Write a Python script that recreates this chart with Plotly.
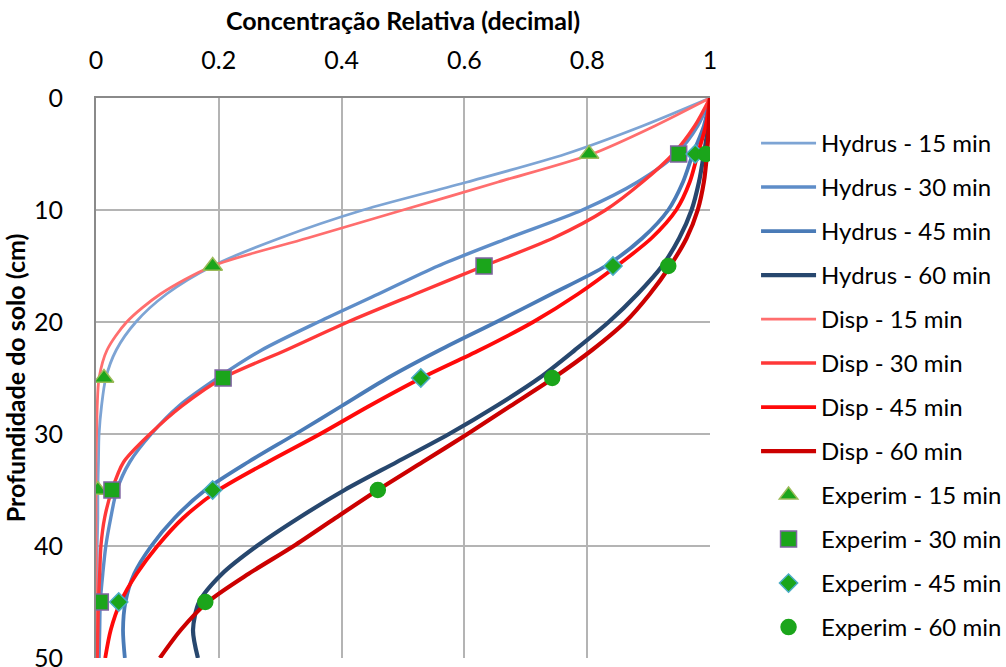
import plotly.graph_objects as go

# Profundidade (cm) e concentração relativa simulada
depth = [0, 2.5, 5, 7.5, 10, 12.5, 15, 17.5, 20, 22.5, 25, 27.5, 30,
         32.5, 35, 37.5, 40, 42.5, 45, 47.5, 50]

hydrus_15 = [1.0, 0.89, 0.765, 0.605, 0.435, 0.30, 0.19, 0.115, 0.065, 0.033, 0.016,
             0.009, 0.005, 0.004, 0.003, 0.003, 0.002, 0.002, 0.002, 0.002, 0.002]
hydrus_30 = [1.0, 0.98, 0.945, 0.882, 0.792, 0.672, 0.557, 0.46, 0.362, 0.27, 0.198,
             0.135, 0.09, 0.055, 0.034, 0.024, 0.016, 0.011, 0.007, 0.006, 0.005]
hydrus_45 = [1.0, 0.99, 0.972, 0.956, 0.932, 0.89, 0.83, 0.742, 0.652, 0.56, 0.475,
             0.40, 0.325, 0.248, 0.178, 0.128, 0.09, 0.062, 0.048, 0.044, 0.047]
hydrus_60 = [1.0, 0.997, 0.99, 0.982, 0.97, 0.95, 0.922, 0.882, 0.835, 0.78, 0.722,
             0.652, 0.575, 0.49, 0.405, 0.33, 0.262, 0.205, 0.168, 0.158, 0.166]

disp_15 = [1.0, 0.91, 0.808, 0.655, 0.5, 0.345, 0.19, 0.105, 0.05, 0.018, 0.005,
           0.002, 0.001, 0.0, 0.0, 0.0, 0.0, 0.0, 0.0, 0.0, 0.0]
disp_30 = [1.0, 0.975, 0.94, 0.89, 0.83, 0.745, 0.632, 0.52, 0.41, 0.31, 0.207,
           0.14, 0.088, 0.045, 0.026, 0.014, 0.008, 0.006, 0.004, 0.003, 0.002]
disp_45 = [1.0, 0.993, 0.98, 0.967, 0.945, 0.905, 0.848, 0.785, 0.712, 0.625, 0.53,
           0.445, 0.365, 0.28, 0.20, 0.142, 0.10, 0.066, 0.04, 0.024, 0.015]
disp_60 = [1.0, 0.998, 0.995, 0.99, 0.98, 0.962, 0.935, 0.902, 0.862, 0.808, 0.745,
           0.675, 0.605, 0.532, 0.459, 0.39, 0.322, 0.248, 0.182, 0.138, 0.104]

# Dados experimentais
exp_depth_15 = [5, 15, 25, 35]
exp_15 = [0.803, 0.19, 0.013, 0.003]
exp_depth = [5, 15, 25, 35, 45]
exp_30 = [0.949, 0.632, 0.207, 0.026, 0.007]
exp_45 = [0.976, 0.842, 0.529, 0.19, 0.037]
exp_60 = [0.993, 0.932, 0.743, 0.459, 0.178]

x_ticks = [0, 0.2, 0.4, 0.6, 0.8, 1]
y_ticks = [0, 10, 20, 30, 40, 50]

FONT = "Lato"
FS = 25
LEG_FS = 24
GREEN = "#1BA51B"

fig = go.Figure()

line_series = [
    ("Hydrus - 15 min", hydrus_15, "#7DA4D4", 2.8),
    ("Hydrus - 30 min", hydrus_30, "#5E8DC8", 3.4),
    ("Hydrus - 45 min", hydrus_45, "#4A7BB7", 3.8),
    ("Hydrus - 60 min", hydrus_60, "#27476E", 4.2),
    ("Disp - 15 min", disp_15, "#FF6E6E", 2.8),
    ("Disp - 30 min", disp_30, "#FF3838", 3.4),
    ("Disp - 45 min", disp_45, "#FF0A0A", 3.8),
    ("Disp - 60 min", disp_60, "#CC0000", 4.2),
]
for i, (name, vals, color, width) in enumerate(line_series):
    fig.add_trace(go.Scatter(
        x=vals, y=depth, mode="lines", name=name, legendgroup=f"g{i}",
        line=dict(color=color, width=width, shape="spline", smoothing=0.8),
    ))

marker_series = [
    ("Experim - 15 min", exp_15, exp_depth_15, "triangle-up", 17, "#9BBB59"),
    ("Experim - 30 min", exp_30, exp_depth, "square", 16, "#8064A2"),
    ("Experim - 45 min", exp_45, exp_depth, "diamond", 14, "#4BACC6"),
    ("Experim - 60 min", exp_60, exp_depth, "circle", 15, GREEN),
]
for j, (name, vals, dep, sym, size, edge) in enumerate(marker_series):
    fig.add_trace(go.Scatter(
        x=vals, y=dep, mode="markers", name=name, legendgroup=f"m{j}",
        marker=dict(symbol=sym, size=size, color=GREEN,
                    line=dict(color=edge, width=1.5)),
    ))

fig.update_layout(
    width=1006, height=667,
    margin=dict(l=96, r=296, t=98, b=9, autoexpand=False),
    paper_bgcolor="white", plot_bgcolor="white",
    font=dict(family=FONT, size=FS, color="#000000"),
    showlegend=True,
    legend=dict(
        x=1.075, y=0.959, xanchor="left", yanchor="top",
        font=dict(family=FONT, size=LEG_FS),
        tracegroupgap=9.8, traceorder="grouped",
        bgcolor="rgba(0,0,0,0)", itemwidth=55, maxheight=1000,
    ),
    xaxis=dict(
        side="top", range=[0, 1], tickvals=x_ticks,
        ticktext=[f"{v:g}" for v in x_ticks],
        showgrid=True, gridcolor="#B4B4B4", gridwidth=2,
        showline=True, linecolor="#8A8A8A", linewidth=2,
        zeroline=False, ticks="", ticklabelstandoff=17,
        ticklabeloverflow="allow",
        title=dict(text="<b>Concentração Relativa (decimal)</b>",
                   font=dict(family=FONT, size=FS), standoff=6),
    ),
    yaxis=dict(
        range=[50, 0], tickvals=y_ticks,
        showgrid=True, gridcolor="#B4B4B4", gridwidth=2,
        showline=True, linecolor="#8A8A8A", linewidth=2,
        zeroline=False, ticks="", ticklabelstandoff=26,
        ticklabeloverflow="allow",
        title=dict(text="<b>Profundidade do solo (cm)</b>",
                   font=dict(family=FONT, size=FS), standoff=8),
    ),
)

fig.write_html("out.html")
